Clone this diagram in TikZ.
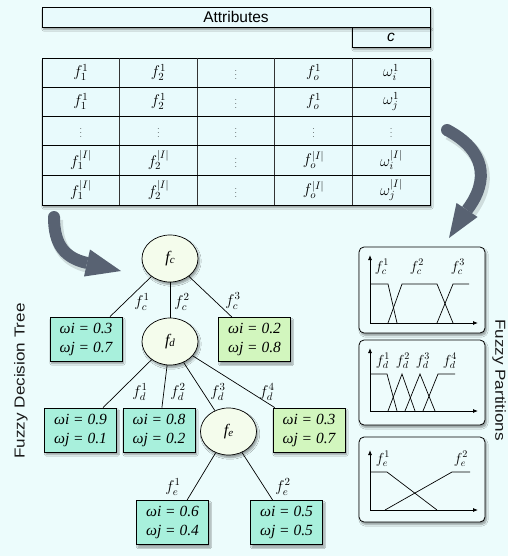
\RequirePackage{fix-cm}
\documentclass[tikz,border=0pt]{standalone}
\usepackage{fontspec}
\setsansfont{Liberation Sans}
\newfontfamily\tms{Liberation Serif}
\usetikzlibrary{shapes.geometric,shadows.blur,calc,arrows.meta}

\definecolor{bg}{RGB}{236,252,252}
\definecolor{tablefill}{RGB}{232,250,252}
\definecolor{leafteal}{RGB}{168,240,220}
\definecolor{leafgreen}{RGB}{210,246,190}
\definecolor{splitfill}{RGB}{244,252,236}
\definecolor{panelfill}{RGB}{238,252,252}
\definecolor{arrowgray}{RGB}{88,98,114}

% attribute name inside a split node, e.g. f with a lowered c
\newcommand\ellf[1]{{\tms\itshape\fontsize{16}{16}\selectfont f\raisebox{-1.5pt}{\fontsize{11}{11}\selectfont #1}}}
\newcommand\tdots{\hbox{\fontsize{9}{10}\selectfont$\vdots$}}
% side titles are set slightly widened
\newcommand\widetitle[1]{\scalebox{1.18}[1]{#1}}

\begin{document}
\begin{tikzpicture}[x=1pt,y=-1pt,
  shade/.style={blur shadow={shadow xshift=1.5pt,shadow yshift=-2.5pt,shadow blur steps=6,shadow opacity=40}},
  bar/.style={draw, line width=0.9pt, fill=tablefill, inner sep=0pt, shade, font=\sffamily\fontsize{15.5}{17}\selectfont},
  cell/.style={inner sep=0pt, font=\fontsize{15.5}{17}\selectfont},
  leaf/.style={draw, line width=0.8pt, fill=leafteal, minimum width=72pt, minimum height=44pt,
    inner sep=0pt, align=center, font=\tms\itshape\fontsize{15.5}{19}\selectfont, shade},
  leafg/.style={leaf, fill=leafgreen},
  split/.style={ellipse, draw, line width=0.7pt, fill=splitfill, minimum width=56pt, minimum height=47pt, inner sep=0pt, shade},
  edge/.style={line width=0.7pt},
  elab/.style={inner sep=0pt, font=\fontsize{15.5}{17}\selectfont},
  plab/.style={inner sep=0pt, font=\fontsize{14.5}{16}\selectfont},
  panel/.style={draw, line width=0.8pt, rounded corners=5pt, fill=panelfill, minimum width=126pt, inner sep=0pt, shade},
  axis/.style={line width=0.8pt, -{Latex[length=5pt,width=4pt]}},
  mf/.style={line width=0.7pt},
  bigarrow/.style={draw=arrowgray, line width=12pt, line cap=butt},
  bigshadow/.style={draw=black, opacity=0.12, line width=14pt, line cap=butt},
  title/.style={inner sep=0pt, font=\sffamily\fontsize{14.5}{16}\selectfont, text=black!90}
]
\fill[bg] (0,0) rectangle (508,556);
\useasboundingbox (0,0) rectangle (508,556);

% header bars
\node[bar, minimum width=78pt, minimum height=20pt] (cls) at (391,37) {\textit{c}};
\node[bar, minimum width=388pt, minimum height=20pt] (attr) at (236,17) {Attributes};

% data table
\node[draw, line width=0.9pt, fill=tablefill, minimum width=388pt, minimum height=147pt, shade] (tbl) at (236,131.5) {};
\foreach \x in {119.6,197.2,274.8,352.4} \draw[line width=0.7pt, black!80] (\x,58) -- (\x,205);
\foreach \y in {87,116,145,175} \draw[line width=0.8pt] (42,\y) -- (430,\y);
\foreach \c/\t in {1/{f_1^1},2/{f_2^1},3/{\tdots},4/{f_o^1},5/{\omega_i^1}}
  \node[cell] (r1c\c) at ({42+77.6*(\c-0.5)},72.5) {$\t$};
\foreach \c/\t in {1/{f_1^1},2/{f_2^1},3/{\tdots},4/{f_o^1},5/{\omega_j^1}}
  \node[cell] (r2c\c) at ({42+77.6*(\c-0.5)},101.5) {$\t$};
\foreach \c in {1,...,5}
  \node[cell] (r3c\c) at ({42+77.6*(\c-0.5)},130.5) {$\tdots$};
\foreach \c/\t in {1/{f_1^{|I|}},2/{f_2^{|I|}},3/{\tdots},4/{f_o^{|I|}},5/{\omega_i^{|I|}}}
  \node[cell] (r4c\c) at ({42+77.6*(\c-0.5)},160) {$\t$};
\foreach \c/\t in {1/{f_1^{|I|}},2/{f_2^{|I|}},3/{\tdots},4/{f_o^{|I|}},5/{\omega_j^{|I|}}}
  \node[cell] (r5c\c) at ({42+77.6*(\c-0.5)},190) {$\t$};

% thick curved arrows
\draw[bigshadow] (449,133) .. controls (487,153) and (492,183) .. (469,213);
\draw[bigarrow] (447,130) .. controls (485,150) and (490,180) .. (467,210);
\fill[arrowgray] (447,130) circle (6);
\fill[arrowgray] (449,238) -- (456.5,203) -- (477.5,217) -- cycle;

\draw[bigshadow] (56,220) .. controls (56,248) and (67,261) .. (89,266);
\draw[bigarrow] (54,217) .. controls (54,245) and (65,258) .. (87,263);
\fill[arrowgray] (54,217) circle (6);
\fill[arrowgray] (121,271) -- (90,249.5) -- (84,276.5) -- cycle;

% decision tree
\node[split] (fc) at (170,258.5) {\ellf{c}};
\node[leaf]  (A) at (86,339) {ωi = 0.3\\ωj = 0.7};
\node[split] (fd) at (170,341.5) {\ellf{d}};
\node[leafg] (B) at (254.5,339.5) {ωi = 0.2\\ωj = 0.8};
\node[leaf]  (C) at (80.5,430) {ωi = 0.9\\ωj = 0.1};
\node[leaf]  (D) at (159,430) {ωi = 0.8\\ωj = 0.2};
\node[split] (fe) at (228.5,431.5) {\ellf{e}};
\node[leafg] (E) at (309,430) {ωi = 0.3\\ωj = 0.7};
\node[leaf]  (F) at (172.5,522.5) {ωi = 0.6\\ωj = 0.4};
\node[leaf]  (G) at (286.5,522.5) {ωi = 0.5\\ωj = 0.5};

\draw[edge] (fc) -- ($(A.north west)!0.83!(A.north east)$);
\draw[edge] (fc) -- (fd);
\draw[edge] (fc) -- ($(B.north west)!0.19!(B.north east)$);
\draw[edge] (fd) -- ($(C.north west)!0.81!(C.north east)$);
\draw[edge] (fd) -- ($(D.north west)!0.54!(D.north east)$);
\draw[edge] (fd) -- (fe);
\draw[edge] (fd) -- ($(E.north west)!0.03!(E.north east)$);
\draw[edge] (fe) -- ($(F.north west)!0.70!(F.north east)$);
\draw[edge] (fe) -- ($(G.north west)!0.31!(G.north east)$);

\node[elab] (lc1) at (142,302) {$f_c^1$};
\node[elab] (lc2) at (182,302) {$f_c^2$};
\node[elab] (lc3) at (233,301) {$f_c^3$};
\node[elab] (ld1) at (140,392) {$f_d^1$};
\node[elab] (ld2) at (178,392) {$f_d^2$};
\node[elab] (ld3) at (218,392) {$f_d^3$};
\node[elab] (ld4) at (267,392) {$f_d^4$};
\node[elab] (le1) at (173,487) {$f_e^1$};
\node[elab] (le2) at (283,487) {$f_e^2$};

% fuzzy partitions
\node[panel, minimum height=86pt] (p1) at (422,290) {};
\node[panel, minimum height=85pt] (p2) at (422,382.5) {};
\node[panel, minimum height=85pt] (p3) at (422,479.5) {};

\draw[axis] (370,323) -- (370,255);
\draw[axis] (370,323) -- (478,323);
\draw[mf] (370,284) -- (388,284) -- (397,323);
\draw[mf] (388,323) -- (402,284) -- (437,284) -- (453,323);
\draw[mf] (437,323) -- (453,284) -- (469,284);
\node[plab] (pc1) at (382,267) {$f_c^1$};
\node[plab] (pc2) at (417,267) {$f_c^2$};
\node[plab] (pc3) at (458,267) {$f_c^3$};

\draw[axis] (370,411) -- (370,348);
\draw[axis] (370,411) -- (478,411);
\draw[mf] (370,374) -- (387,374) -- (397,411);
\draw[mf] (388,411) -- (402,374) -- (415,411);
\draw[mf] (405,411) -- (420,374) -- (435,411);
\draw[mf] (423,411) -- (438,374) -- (455,374);
\node[plab] (pd1) at (383,361) {$f_d^1$};
\node[plab] (pd2) at (403,361) {$f_d^2$};
\node[plab] (pd3) at (423,361) {$f_d^3$};
\node[plab] (pd4) at (450,361) {$f_d^4$};

\draw[axis] (370,510) -- (370,450);
\draw[axis] (370,510) -- (478,510);
\draw[mf] (370,472) -- (387,472) -- (437,510);
\draw[mf] (385,510) -- (452,472) -- (470,472);
\node[plab] (pe1) at (383,459) {$f_e^1$};
\node[plab] (pe2) at (461,459) {$f_e^2$};

% side titles
\node[title, rotate=90] (ttree) at (21,381) {\widetitle{Fuzzy Decision Tree}};
\node[title, rotate=-90] (tpart) at (499,380) {\widetitle{Fuzzy Partitions}};
\end{tikzpicture}
\end{document}
